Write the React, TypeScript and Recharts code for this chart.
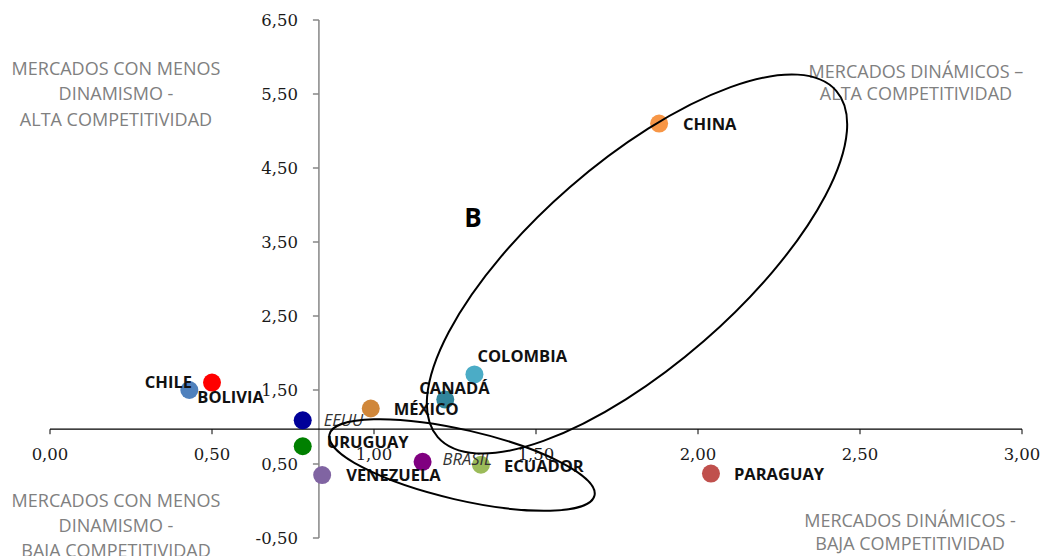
import React from "react";
import {
  ScatterChart,
  Scatter,
  XAxis,
  YAxis,
  ReferenceLine,
  ReferenceDot,
  LabelList,
} from "recharts";

const countries = [
  "CHINA",
  "COLOMBIA",
  "CANADÁ",
  "MÉXICO",
  "EEUU",
  "URUGUAY",
  "VENEZUELA",
  "BRASIL",
  "ECUADOR",
  "PARAGUAY",
  "CHILE",
  "BOLIVIA",
];
const xValues = [1.88, 1.31, 1.22, 0.99, 0.78, 0.78, 0.84, 1.15, 1.33, 2.04, 0.5, 0.43];
const yValues = [5.1, 1.71, 1.37, 1.25, 1.09, 0.74, 0.35, 0.53, 0.49, 0.37, 1.6, 1.5];
const colors = [
  "#F79646",
  "#4BACC6",
  "#31859C",
  "#D0873A",
  "#000099",
  "#008000",
  "#8064A2",
  "#800080",
  "#9BBB59",
  "#C0504D",
  "#FF0000",
  "#4F81BD",
];
const xTicks = [0, 0.5, 1, 1.5, 2, 2.5, 3];
const yTicks = [-0.5, 0.5, 1.5, 2.5, 3.5, 4.5, 5.5, 6.5];
// where the two axes cross
const axisCrossX = 0.83;
const axisCrossY = 0.97;

// label placement relative to each dot (layout only)
const labelPos: Record<string, { dx: number; dy: number; anchor?: string; italic?: boolean }> = {
  CHINA: { dx: 24, dy: 0 },
  COLOMBIA: { dx: 3, dy: -18 },
  CANADÁ: { dx: -26, dy: -12 },
  MÉXICO: { dx: 23, dy: 1 },
  EEUU: { dx: 21, dy: 0, italic: true },
  URUGUAY: { dx: 24, dy: -4 },
  VENEZUELA: { dx: 24, dy: 0 },
  BRASIL: { dx: 20, dy: -3, italic: true },
  ECUADOR: { dx: 23, dy: 1 },
  PARAGUAY: { dx: 23, dy: 0 },
  CHILE: { dx: -20, dy: -1, anchor: "end" },
  BOLIVIA: { dx: 8, dy: 7 },
};

const data = countries.map((name, i) => ({
  name,
  x: xValues[i],
  y: yValues[i],
  color: colors[i],
}));

const fmt = (v: number) => v.toFixed(2).replace(".", ",");

const tickFont = { fontFamily: "DejaVu Serif", fontSize: 16.5, fill: "#1a1a1a" };
const quadFont = { fontFamily: "Open Sans", fontSize: 18, fill: "#808080" };

const CountryLabel = (props: any) => {
  const { x, y, width, height, value } = props;
  const cx = x + width / 2;
  const cy = y + height / 2;
  const p = labelPos[value] || { dx: 20, dy: 0 };
  return (
    <text
      x={cx + p.dx}
      y={cy + p.dy}
      dy="0.36em"
      textAnchor={p.anchor || "start"}
      fontFamily="Open Sans"
      fontSize={16.5}
      fontWeight={p.italic ? 400 : 700}
      fontStyle={p.italic ? "italic" : "normal"}
      fill={p.italic ? "#333" : "#111"}
    >
      {value}
    </text>
  );
};

const Overlay = () => (
  <svg
    width={1042}
    height={556}
    style={{ position: "absolute", left: 0, top: 0, pointerEvents: "none" }}
  >
    <g {...quadFont} textAnchor="middle">
      <text x={116} y={75}>MERCADOS CON MENOS</text>
      <text x={116} y={100}>DINAMISMO -</text>
      <text x={116} y={126}>ALTA COMPETITIVIDAD</text>
      <text x={916} y={78}>MERCADOS DINÁMICOS –</text>
      <text x={916} y={100}>ALTA COMPETITIVIDAD</text>
      <text x={116} y={507}>MERCADOS CON MENOS</text>
      <text x={116} y={532}>DINAMISMO -</text>
      <text x={116} y={557}>BAJA COMPETITIVIDAD</text>
      <text x={910} y={527}>MERCADOS DINÁMICOS -</text>
      <text x={910} y={550}>BAJA COMPETITIVIDAD</text>
    </g>
    <text
      x={473}
      y={227}
      textAnchor="middle"
      fontFamily="Open Sans"
      fontWeight={700}
      fontSize={26}
      fill="#000"
    >
      B
    </text>
    <ellipse
      cx={637}
      cy={264}
      rx={264}
      ry={102}
      transform="rotate(-41 637 264)"
      fill="none"
      stroke="#000"
      strokeWidth={2}
    />
    <ellipse
      cx={462}
      cy={465}
      rx={136}
      ry={35}
      transform="rotate(13 462 465)"
      fill="none"
      stroke="#000"
      strokeWidth={2}
    />
  </svg>
);

export default function App() {
  return (
    <div
      style={{
        position: "fixed",
        left: 0,
        top: 0,
        width: 1042,
        height: 556,
        background: "#fff",
      }}
    >
      <ScatterChart
        width={1042}
        height={556}
        margin={{ top: 20, right: 20, bottom: 18, left: 50 }}
      >
        <XAxis type="number" dataKey="x" domain={[0, 3]} hide />
        <YAxis type="number" dataKey="y" domain={[-0.5, 6.5]} hide />
        <ReferenceLine x={axisCrossX} stroke="#868686" strokeWidth={1.5} ifOverflow="visible" />
        <ReferenceLine y={axisCrossY} stroke="#000" strokeWidth={1.2} ifOverflow="visible" />
        {xTicks.map((t) => (
          <ReferenceDot
            key={"xt" + t}
            x={t}
            y={axisCrossY}
            r={0}
            ifOverflow="visible"
            shape={(p: any) => (
              <g>
                <line x1={p.cx} x2={p.cx} y1={p.cy} y2={p.cy + 5} stroke="#000" />
                <text x={p.cx} y={p.cy + 31} textAnchor="middle" {...tickFont}>
                  {fmt(t)}
                </text>
              </g>
            )}
          />
        ))}
        {yTicks.map((t) => (
          <ReferenceDot
            key={"yt" + t}
            x={axisCrossX}
            y={t}
            r={0}
            ifOverflow="visible"
            shape={(p: any) => (
              <g>
                <line x1={p.cx - 6} x2={p.cx} y1={p.cy} y2={p.cy} stroke="#868686" strokeWidth={1.5} />
                <text x={p.cx - 21} y={p.cy + 6} textAnchor="end" {...tickFont}>
                  {fmt(t)}
                </text>
              </g>
            )}
          />
        ))}
        <Scatter
          data={data}
          isAnimationActive={false}
          shape={(p: any) => (
            <circle cx={p.cx} cy={p.cy} r={9} fill={p.payload.color} />
          )}
        >
          <LabelList dataKey="name" content={<CountryLabel />} />
        </Scatter>
      </ScatterChart>
      <Overlay />
    </div>
  );
}
